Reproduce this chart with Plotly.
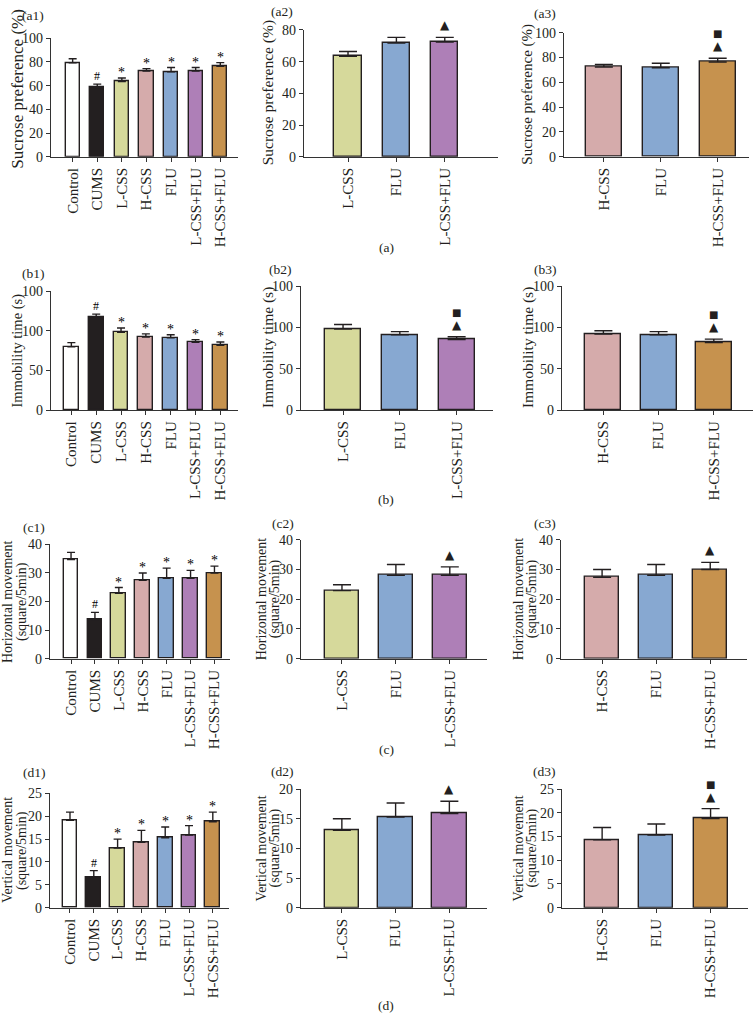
import plotly.graph_objects as go

W, H = 756, 1030
FONT = "Liberation Serif"
INK = "#231f20"

# ---------------- data ----------------
groups = ["Control", "CUMS", "L-CSS", "H-CSS", "FLU", "L-CSS+FLU", "H-CSS+FLU"]
bar_colors = ["#ffffff", "#231f20", "#d6d99b", "#d5abab", "#87a8d1", "#ae7fb7", "#c6924e"]

sucrose_mean = [79.2, 58.4, 63.4, 72.3, 71.7, 72.3, 76.3]
sucrose_err = [3.5, 2.9, 3.0, 2.1, 3.6, 3.0, 3.1]
immobility_mean = [79.6, 117.7, 98.0, 92.0, 91.2, 85.5, 81.6]
immobility_err = [5.4, 3.3, 5.5, 4.1, 3.8, 3.3, 4.3]
horizontal_mean = [34.7, 13.7, 22.9, 27.4, 28.1, 28.1, 30.0]
horizontal_err = [2.5, 2.5, 2.0, 2.6, 3.6, 2.8, 2.4]
vertical_mean = [19.1, 6.7, 13.05, 14.3, 15.3, 15.9, 18.8]
vertical_err = [1.8, 1.4, 1.95, 2.6, 2.35, 2.05, 2.1]

sig_vs_control = ["", "#", "*", "*", "*", "*", "*"]
subset_l = ["L-CSS", "FLU", "L-CSS+FLU"]
subset_h = ["H-CSS", "FLU", "H-CSS+FLU"]

titles = {
    "a": ["Sucrose preference (%)"],
    "b": ["Immobility time (s)"],
    "c": ["Horizontal movement", "(square/5min)"],
    "d": ["Vertical movement", "(square/5min)"],
}
measures = {
    "a": (sucrose_mean, sucrose_err),
    "b": (immobility_mean, immobility_err),
    "c": (horizontal_mean, horizontal_err),
    "d": (vertical_mean, vertical_err),
}
yaxes_spec = {
    "a1": ([0, 100], [0, 20, 40, 60, 80, 100], ["0", "20", "40", "60", "80", "100"]),
    "a2": ([0, 80], [0, 20, 40, 60, 80], ["0", "20", "40", "60", "80"]),
    "a3": ([0, 100], [0, 20, 40, 60, 80, 100], ["0", "20", "40", "60", "80", "100"]),
    "b": ([0, 150], [0, 50, 100, 150], ["0", "50", "100", "100"]),
    "c": ([0, 40], [0, 10, 20, 30, 40], ["0", "10", "20", "30", "40"]),
    "d1": ([0, 25], [0, 5, 10, 15, 20, 25], ["0", "5", "10", "15", "20", "25"]),
    "d2": ([0, 20], [0, 5, 10, 15, 20], ["0", "5", "10", "15", "20"]),
    "d3": ([0, 25], [0, 5, 10, 15, 20, 25], ["0", "5", "10", "15", "20", "25"]),
}
# marks above the combination bar (panels 2 and 3)
combo_triangle = {"a2": True, "a3": True, "b2": True, "b3": True,
                  "c2": True, "c3": True, "d2": True, "d3": True}
combo_square = {"a2": False, "a3": True, "b2": True, "b3": True,
                "c2": False, "c3": False, "d2": False, "d3": True}

# ---------------- geometry (pixels) ----------------
# name: (x0, x1, ytop, ybottom, xrange, barwidth, title line centres x, title size,
#        label centre x, label centre y)
geom = {
    "a1": (51, 238, 31.7, 152, [-0.88, 6.72], 0.58, [18], 17, 33, 9),
    "a2": (304, 498, 23.3, 152, [-0.91, 3.1], 0.56, [268], 15.5, 281.5, 5),
    "a3": (564, 749, 26, 152, [-0.70, 2.55], 0.63, [528], 15, 545, 7),
    "b1": (51, 238, 288.3, 409, [-0.82, 6.71], 0.6, [18], 14.5, 33, 270),
    "b2": (301, 493, 283.3, 409, [-0.74, 2.64], 0.63, [268], 15.5, 280, 266),
    "b3": (562, 753, 283.3, 409, [-0.75, 2.71], 0.65, [528], 15.5, 545, 266),
    "c1": (50, 230, 545.3, 661.3, [-0.88, 6.65], 0.62, [7.5, 21.5], 14, 34, 528),
    "c2": (301, 487, 540.7, 661.3, [-0.76, 2.69], 0.64, [261, 275], 14, 283, 524),
    "c3": (561, 747, 540.7, 661.3, [-0.76, 2.68], 0.63, [518, 532], 14, 544.5, 524),
    "d1": (50, 229, 798, 914, [-0.84, 6.68], 0.62, [7.5, 21.5], 14, 34, 777),
    "d2": (301, 487, 793.7, 914, [-0.76, 2.7], 0.64, [261, 275], 14, 282, 776),
    "d3": (562, 748, 793.7, 914, [-0.74, 2.69], 0.63, [518, 532], 14, 544, 776),
}

fig = go.Figure()
annotations = []


def px_x(x):
    return x / W


def px_y(y):
    return 1 - y / H


order = ["a1", "a2", "a3", "b1", "b2", "b3", "c1", "c2", "c3", "d1", "d2", "d3"]
for idx, name in enumerate(order, start=1):
    row, col = name[0], name[1]
    x0, x1, yt, yb, xr, bw, txs, tsize, lx, ly = geom[name]
    mean_all, err_all = measures[row]
    cats = groups if col == "1" else (subset_l if col == "2" else subset_h)
    ids = [groups.index(c) for c in cats]
    means = [mean_all[i] for i in ids]
    errs = [err_all[i] for i in ids]
    cols = [bar_colors[i] for i in ids]
    xa = "x" if idx == 1 else f"x{idx}"
    ya = "y" if idx == 1 else f"y{idx}"
    cap = 4 if col == "1" else 9
    fig.add_trace(go.Bar(
        x=cats, y=means, width=bw,
        marker=dict(color=cols, line=dict(color=INK, width=1.4)),
        error_y=dict(type="data", array=errs, arrayminus=[0] * len(errs), symmetric=False,
                     color=INK, thickness=1.4, width=cap),
        xaxis=xa, yaxis=ya, showlegend=False, hoverinfo="skip",
    ))
    ykey = name if name in yaxes_spec else row
    yr, tv, tt = yaxes_spec[ykey]
    axis_common = dict(showline=True, linecolor="#333333", linewidth=1.4, ticks="outside",
                       ticklen=4, tickwidth=1.2, tickcolor="#333333", showgrid=False,
                       zeroline=False)
    fig.layout[f"xaxis{'' if idx == 1 else idx}"] = dict(
        domain=[px_x(x0), px_x(x1)], anchor=ya, type="category", range=xr,
        tickangle=-90, fixedrange=True, tickfont=dict(family=FONT, size=15, color=INK),
        **axis_common)
    fig.layout[f"yaxis{'' if idx == 1 else idx}"] = dict(
        domain=[px_y(yb), px_y(yt)], anchor=xa, range=yr, tickvals=tv, ticktext=tt,
        fixedrange=True, tickfont=dict(family=FONT, size=14, color=INK), **axis_common)

    # y-axis title (one annotation per line)
    ymid = (yt + yb) / 2 - (9 if name == "a1" else 0)
    for line, tx in zip(titles[row], txs):
        annotations.append(dict(text=line, xref="paper", yref="paper",
                                x=px_x(tx), y=px_y(ymid),
                                textangle=-90, showarrow=False, xanchor="center",
                                yanchor="middle",
                                font=dict(family=FONT, size=tsize, color=INK)))
    # panel label
    annotations.append(dict(text=f"({name})", xref="paper", yref="paper",
                            x=px_x(lx), y=px_y(ly),
                            showarrow=False, xanchor="center", yanchor="middle",
                            font=dict(family=FONT, size=13.5, color=INK)))
    # significance marks
    if col == "1":
        for c, m, e, s in zip(cats, means, errs, sig_vs_control):
            if s:
                annotations.append(dict(text=s, x=c, y=m + e, xref=xa, yref=ya,
                                        showarrow=False, yanchor="bottom",
                                        yshift=-4 if s == "*" else -1,
                                        font=dict(family=FONT, size=14 if s == "*" else 12,
                                                  color="#000000")))
    else:
        c = cats[-1]
        top = means[-1] + errs[-1]
        if combo_triangle[name]:
            annotations.append(dict(text="▲", x=c, y=top, xref=xa, yref=ya,
                                    showarrow=False, yanchor="bottom", yshift=3,
                                    font=dict(family="DejaVu Sans", size=12, color=INK)))
        if combo_square[name]:
            annotations.append(dict(text="■", x=c, y=top, xref=xa, yref=ya,
                                    showarrow=False, yanchor="bottom", yshift=17,
                                    font=dict(family="DejaVu Sans", size=10, color=INK)))

# row labels
for lab, y in [("(a)", 244), ("(b)", 500), ("(c)", 753), ("(d)", 1013)]:
    annotations.append(dict(text=lab, xref="paper", yref="paper", x=px_x(386), y=px_y(y),
                            showarrow=False, xanchor="center", yanchor="middle",
                            font=dict(family=FONT, size=13.5, color=INK)))

fig.update_layout(
    width=W, height=H, margin=dict(l=0, r=0, t=0, b=0),
    paper_bgcolor="white", plot_bgcolor="white",
    annotations=annotations, bargap=0,
    font=dict(family=FONT, color=INK),
)

fig.write_html("out.html", config={"displayModeBar": False},
               post_script="document.body.style.margin='0px';")
